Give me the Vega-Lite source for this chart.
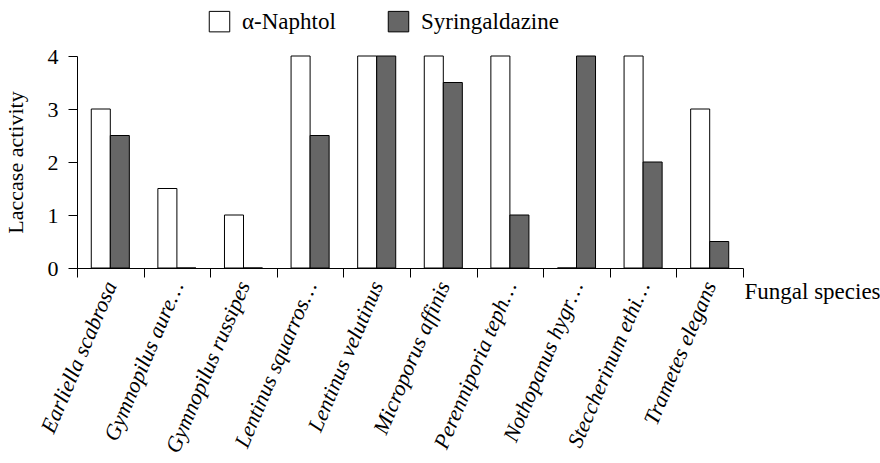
{
  "$schema": "https://vega.github.io/schema/vega-lite/v6.json",
  "autosize": "none",
  "width": 666,
  "height": 212,
  "padding": {"left": 77, "top": 56, "right": 137, "bottom": 195},
  "background": "white",
  "config": {
    "view": {"stroke": null},
    "font": "Liberation Serif",
    "axis": {"domainColor": "black", "tickColor": "black", "labelColor": "black", "titleColor": "black", "grid": false, "labelFont": "Liberation Serif", "titleFont": "Liberation Serif", "titleFontWeight": "normal"},
    "legend": {"labelFont": "Liberation Serif", "labelColor": "black"}
  },
  "data": {
    "values": [
      {"species": "Earliella scabrosa", "substrate": "α-Naphtol", "activity": 3},
      {"species": "Earliella scabrosa", "substrate": "Syringaldazine", "activity": 2.5},
      {"species": "Gymnopilus aure…", "substrate": "α-Naphtol", "activity": 1.5},
      {"species": "Gymnopilus aure…", "substrate": "Syringaldazine", "activity": 0},
      {"species": "Gymnopilus russipes", "substrate": "α-Naphtol", "activity": 1},
      {"species": "Gymnopilus russipes", "substrate": "Syringaldazine", "activity": 0},
      {"species": "Lentinus squarros…", "substrate": "α-Naphtol", "activity": 4},
      {"species": "Lentinus squarros…", "substrate": "Syringaldazine", "activity": 2.5},
      {"species": "Lentinus velutinus", "substrate": "α-Naphtol", "activity": 4},
      {"species": "Lentinus velutinus", "substrate": "Syringaldazine", "activity": 4},
      {"species": "Microporus affinis", "substrate": "α-Naphtol", "activity": 4},
      {"species": "Microporus affinis", "substrate": "Syringaldazine", "activity": 3.5},
      {"species": "Perenniporia teph…", "substrate": "α-Naphtol", "activity": 4},
      {"species": "Perenniporia teph…", "substrate": "Syringaldazine", "activity": 1},
      {"species": "Nothopanus hygr…", "substrate": "α-Naphtol", "activity": 0},
      {"species": "Nothopanus hygr…", "substrate": "Syringaldazine", "activity": 4},
      {"species": "Steccherinum ethi…", "substrate": "α-Naphtol", "activity": 4},
      {"species": "Steccherinum ethi…", "substrate": "Syringaldazine", "activity": 2},
      {"species": "Trametes elegans", "substrate": "α-Naphtol", "activity": 3},
      {"species": "Trametes elegans", "substrate": "Syringaldazine", "activity": 0.5}
    ]
  },
  "mark": {"type": "bar", "stroke": "black", "strokeWidth": 1},
  "encoding": {
    "x": {
      "field": "species", "type": "nominal", "sort": null,
      "scale": {"paddingInner": 0, "paddingOuter": 0},
      "axis": {
        "title": "Fungal species", "titleFontSize": 23, "titleAngle": 0,
        "titleAlign": "left", "titleBaseline": "middle", "titleX": 667, "titleY": 23,
        "labelAngle": -67, "labelFontSize": 22, "labelFontStyle": "italic", "labelLimit": 400,
        "labelPadding": 5, "tickBand": "extent", "tickSize": 9, "labelOverlap": false
      }
    },
    "xOffset": {"field": "substrate", "type": "nominal", "sort": ["α-Naphtol", "Syringaldazine"], "scale": {"domain": ["α-Naphtol", "Syringaldazine"], "paddingInner": 0, "paddingOuter": 0.75}},
    "y": {
      "field": "activity", "type": "quantitative",
      "scale": {"domain": [0, 4], "nice": false},
      "axis": {
        "title": "Laccase activity", "titleFontSize": 22, "titlePadding": 20,
        "values": [0, 1, 2, 3, 4], "format": "d",
        "labelFontSize": 22, "labelPadding": 10, "tickSize": 9
      }
    },
    "fill": {
      "field": "substrate", "type": "nominal",
      "scale": {"domain": ["α-Naphtol", "Syringaldazine"], "range": ["white", "#666666"]},
      "legend": {
        "title": null, "orient": "none", "direction": "horizontal",
        "legendX": 131, "legendY": -46,
        "symbolType": "square", "symbolSize": 420, "symbolStrokeColor": "black", "symbolStrokeWidth": 1,
        "labelFontSize": 23, "labelOffset": 11, "columnPadding": 50, "labelLimit": 300
      }
    }
  }
}
